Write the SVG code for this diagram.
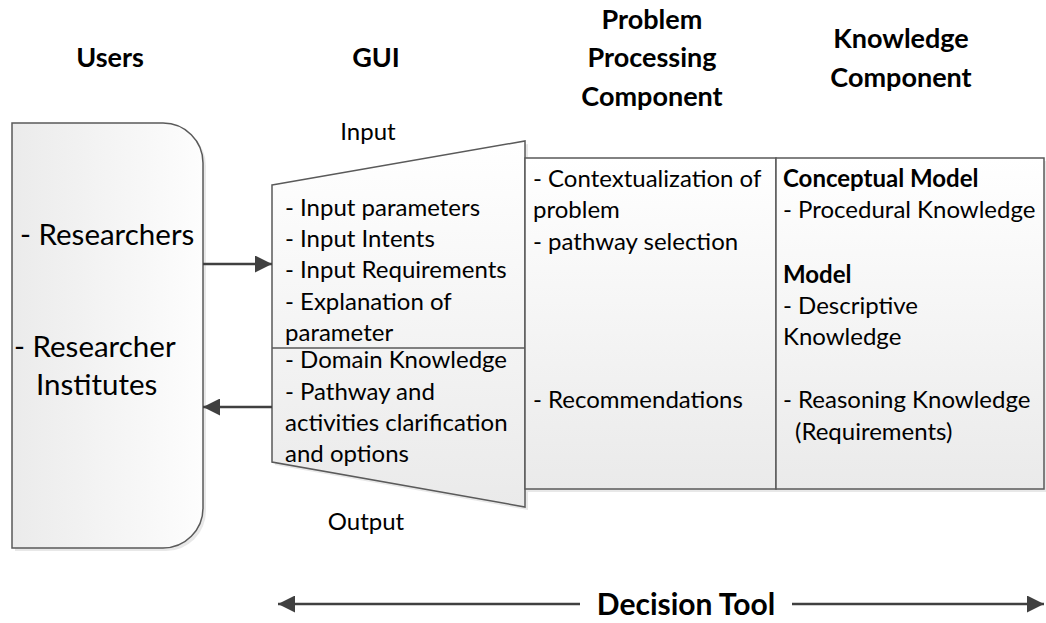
<svg xmlns="http://www.w3.org/2000/svg" width="1046" height="623" viewBox="0 0 1046 623">
<defs>
<linearGradient id="gH" x1="0" y1="0" x2="1" y2="0"><stop offset="0" stop-color="#ebebeb"/><stop offset="1" stop-color="#fdfdfd"/></linearGradient>
<linearGradient id="gV" x1="0" y1="0" x2="0" y2="1"><stop offset="0" stop-color="#ffffff"/><stop offset="1" stop-color="#eaeaea"/></linearGradient>
<marker id="ah2" viewBox="0 0 10 10" refX="10" refY="5" markerWidth="17" markerHeight="17" markerUnits="userSpaceOnUse" orient="auto-start-reverse"><path d="M0,0 L10,5 L0,10 Z" fill="#404040"/></marker>
<style>
.t{font-family:Lato,"Open Sans","Liberation Sans",sans-serif;font-size:24px;fill:#000}
.u{font-family:Lato,"Open Sans","Liberation Sans",sans-serif;font-size:29.5px;fill:#000}
.h{font-family:Lato,"Open Sans","Liberation Sans",sans-serif;font-size:27px;font-weight:bold;fill:#000;text-anchor:middle}
.b{font-weight:bold}
.box{stroke:#5a5a5a;stroke-width:1.5}
.sh{fill:#d8d8d8;opacity:0.6}
.ln{stroke:#404040;stroke-width:2.5;fill:none}
</style>
</defs>

<g id="headers">
<text class="h" x="110" y="67">Users</text>
<text class="h" x="376" y="67">GUI</text>
<text class="h" x="652" y="29">Problem</text>
<text class="h" x="652" y="67">Processing</text>
<text class="h" x="652" y="106">Component</text>
<text class="h" x="901" y="48">Knowledge</text>
<text class="h" x="901" y="87">Component</text>
</g>

<g id="users">
<path class="sh" d="M15,126 H166 A40,40 0 0 1 206,166 V511 A40,40 0 0 1 166,551 H15 Z"/>
<path class="box" fill="url(#gH)" d="M12,123 H163 A40,40 0 0 1 203,163 V508 A40,40 0 0 1 163,548 H12 Z"/>
<text class="u" x="20" y="245">- Researchers</text>
<text class="u" x="14" y="357">- Researcher</text>
<text class="u" x="36" y="395">Institutes</text>
</g>

<g id="gui">
<path class="sh" d="M275,188 L528,144 L528,510 L275,465 Z"/>
<path class="box" fill="url(#gV)" d="M272,185 L525,141 L525,507 L272,462 Z"/>
<line class="box" x1="272" y1="348" x2="525" y2="348"/>
<text class="t" x="368" y="140" text-anchor="middle">Input</text>
<text class="t" x="366" y="530" text-anchor="middle">Output</text>
<text class="t" x="285" y="216">- Input parameters</text>
<text class="t" x="285" y="247">- Input Intents</text>
<text class="t" x="285" y="278">- Input Requirements</text>
<text class="t" x="285" y="310">- Explanation of</text>
<text class="t" x="285" y="341">parameter</text>
<text class="t" x="285" y="368">- Domain Knowledge</text>
<text class="t" x="285" y="400">- Pathway and</text>
<text class="t" x="285" y="431">activities clarification</text>
<text class="t" x="285" y="462">and options</text>
</g>

<g id="problem">
<rect class="sh" x="528" y="161" width="251" height="331"/>
<rect class="box" fill="url(#gV)" x="525" y="158" width="251" height="331"/>
<text class="t" x="533" y="187">- Contextualization of</text>
<text class="t" x="533" y="218">problem</text>
<text class="t" x="533" y="250">- pathway selection</text>
<text class="t" x="533" y="408">- Recommendations</text>
</g>

<g id="knowledge">
<rect class="sh" x="779" y="161" width="268" height="331"/>
<rect class="box" fill="url(#gV)" x="776" y="158" width="268" height="331"/>
<text class="t b" x="783" y="187">Conceptual Model</text>
<text class="t" x="783" y="218">- Procedural Knowledge</text>
<text class="t b" x="783" y="283">Model</text>
<text class="t" x="783" y="314">- Descriptive</text>
<text class="t" x="783" y="345">Knowledge</text>
<text class="t" x="783" y="408">- Reasoning Knowledge</text>
<text class="t" x="795" y="440">(Requirements)</text>
</g>

<g id="connectors">
<line class="ln" x1="203" y1="264" x2="272" y2="264" marker-end="url(#ah2)"/>
<line class="ln" x1="272" y1="407" x2="203" y2="407" marker-end="url(#ah2)"/>
<line class="ln" x1="278" y1="604" x2="580" y2="604" marker-start="url(#ah2)"/>
<line class="ln" x1="792" y1="604" x2="1044" y2="604" marker-end="url(#ah2)"/>
</g>

<g id="decision-tool">
<text class="h" x="686" y="615" style="font-size:30px">Decision Tool</text>
</g>
</svg>
